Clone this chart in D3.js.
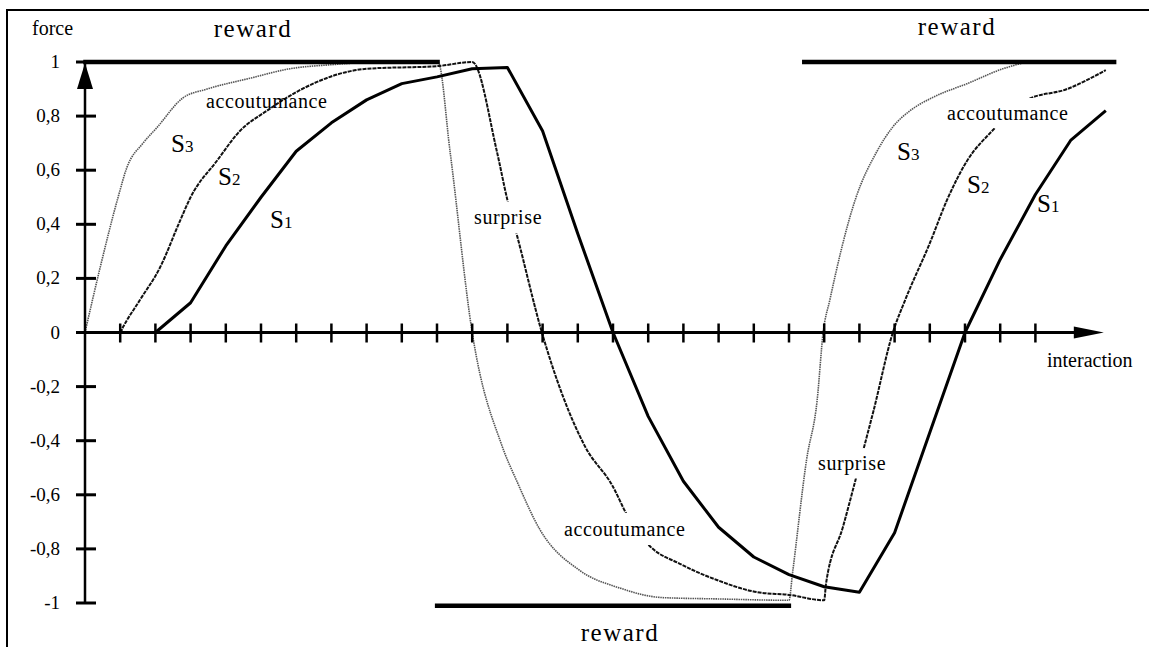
<!DOCTYPE html>
<html>
<head>
<meta charset="utf-8">
<script src="https://cdn.jsdelivr.net/npm/d3@7/dist/d3.min.js"></script>
<style>
  body { margin: 0; background: #fff; }
  text { font-family: "Liberation Serif", "Times New Roman", serif; fill: #000; }
</style>
</head>
<body>
<div id="chart"></div>
<script>
// curves: [interaction, force]
var s1 = [[0, 0], [2, 0], [3, 0.11], [4, 0.32], [5, 0.50], [6, 0.67], [7, 0.775], [8, 0.86],
          [9, 0.92], [10, 0.945], [11, 0.975], [12, 0.98], [13, 0.745], [14, 0.365], [15, 0],
          [16, -0.31], [17, -0.55], [18, -0.72], [19, -0.83], [20, -0.895], [21, -0.94],
          [22, -0.96], [23, -0.74], [24, -0.37], [25, 0], [26, 0.27], [27, 0.51], [28, 0.71],
          [29, 0.82]];
var s2 = [[0, 0], [1.0, 0], [1.08, 0.02], [1.56, 0.12], [2.13, 0.24], [2.69, 0.41], [3.0, 0.50],
          [3.75, 0.635], [4.4, 0.745], [5.17, 0.82], [6.02, 0.89], [8.01, 0.975], [10.03, 0.985],
          [11.0, 1.0], [11.7, 0.67], [12.0, 0.49], [12.27, 0.36], [12.98, 0], [14.2, -0.42],
          [15.0, -0.57], [15.4, -0.675], [16.05, -0.79], [16.9, -0.855], [17.95, -0.915],
          [19.1, -0.96], [20.0, -0.97], [21.0, -0.99], [21.05, -0.93], [21.53, -0.72],
          [21.88, -0.55], [22.1, -0.44], [22.4, -0.29], [22.95, 0], [23.3, 0.12], [24.0, 0.33],
          [24.49, 0.49], [25.06, 0.635], [25.77, 0.745], [26.76, 0.86], [27.9, 0.90], [29.0, 0.97]];
var s3 = [[0, 0], [0.43, 0.24], [0.94, 0.50], [1.19, 0.61], [1.65, 0.70], [2.04, 0.757],
          [2.78, 0.867], [3.47, 0.90], [4.69, 0.94], [5.82, 0.975], [7.0, 0.99], [8.5, 1.0],
          [10.03, 1.0], [10.37, 0.67], [11.0, 0], [11.85, -0.42], [12.27, -0.55], [12.93, -0.73],
          [14.06, -0.88], [15.2, -0.945], [16.4, -0.98], [18.0, -0.985], [20.0, -0.99],
          [20.1, -0.89], [20.5, -0.47], [20.8, -0.25], [20.97, 0], [21.16, 0.12], [21.88, 0.49],
          [22.5, 0.67], [22.95, 0.76], [23.44, 0.82], [24.1, 0.87], [25.06, 0.92], [26.2, 0.98],
          [26.9, 1.0], [29.0, 1.0]];

// reward periods
var rewardStart = [-0.05, 9.94, 20.37];
var rewardEnd = [10.08, 20.06, 29.3];
var rewardLevel = [1, -1.01, 1];

// ticks
var xTicks = [1, 2, 3, 4, 5, 6, 7, 8, 9, 10, 11, 12, 13, 14, 15, 16, 17, 18, 19, 20,
              21, 22, 23, 24, 25, 26, 27];
var yTicks = [1, 0.8, 0.6, 0.4, 0.2, 0, -0.2, -0.4, -0.6, -0.8, -1];
var yTickLabels = ["1", "0,8", "0,6", "0,4", "0,2", "0", "-0,2", "-0,4", "-0,6", "-0,8", "-1"];

var width = 1149;
var height = 647;

var svg = d3.select("#chart")
            .append("svg")
            .attr("width", width)
            .attr("height", height);

var x = d3.scaleLinear().domain([0, 29]).range([85, 1105.8]);
var y = d3.scaleLinear().domain([-1, 1]).range([603, 62]);

// frame (top and left edges only are visible)
svg.append("path")
   .attr("d", "M7,647 L7,10 L1149,10")
   .attr("fill", "none")
   .attr("stroke", "#000")
   .attr("stroke-width", 2);

// curves
var line = d3.line()
             .x(function(d) { return x(d[0]); })
             .y(function(d) { return y(d[1]); });
var smooth = d3.line()
               .x(function(d) { return x(d[0]); })
               .y(function(d) { return y(d[1]); })
               .curve(d3.curveMonotoneX);

svg.append("path")
   .datum(s3)
   .attr("d", smooth)
   .attr("fill", "none")
   .attr("stroke", "#555")
   .attr("stroke-width", 1.6)
   .attr("stroke-dasharray", "1.5,0.8");
svg.append("path")
   .datum(s2)
   .attr("d", smooth)
   .attr("fill", "none")
   .attr("stroke", "#111")
   .attr("stroke-width", 2)
   .attr("stroke-dasharray", "4,1");
svg.append("path")
   .datum(s1)
   .attr("d", line)
   .attr("fill", "none")
   .attr("stroke", "#000")
   .attr("stroke-width", 3)
   .attr("stroke-linejoin", "round");

// y axis
var axis = svg.append("g").attr("stroke", "#000");
axis.append("line")
    .attr("x1", x(0)).attr("x2", x(0))
    .attr("y1", y(1)).attr("y2", y(-1))
    .attr("stroke-width", 2.5);
axis.selectAll(".ytick")
    .data(yTicks)
    .enter().append("line")
    .attr("class", "ytick")
    .attr("x1", x(0) - 9).attr("x2", x(0) + 11)
    .attr("y1", function(d) { return y(d); })
    .attr("y2", function(d) { return y(d); })
    .attr("stroke-width", 3);
svg.append("path")
   .attr("d", "M" + x(0) + "," + (y(1) + 1) + " L" + (x(0) - 8) + "," + (y(1) + 27) +
              " L" + (x(0) + 8) + "," + (y(1) + 27) + " Z")
   .attr("fill", "#000");
svg.selectAll(".ylabel")
   .data(yTicks)
   .enter().append("text")
   .attr("class", "ylabel")
   .attr("x", 60)
   .attr("y", function(d) { return y(d) + 6; })
   .attr("text-anchor", "end")
   .attr("font-size", 19)
   .text(function(d, i) { return yTickLabels[i]; });

// x axis
axis.append("line")
    .attr("x1", x(0)).attr("x2", x(29) - 25)
    .attr("y1", y(0)).attr("y2", y(0))
    .attr("stroke-width", 3);
axis.selectAll(".xtick")
    .data(xTicks)
    .enter().append("line")
    .attr("class", "xtick")
    .attr("x1", function(d) { return x(d); })
    .attr("x2", function(d) { return x(d); })
    .attr("y1", y(0) - 9).attr("y2", y(0) + 10)
    .attr("stroke-width", 2.5);
svg.append("path")
   .attr("d", "M" + (x(29) - 2) + "," + y(0) + " L" + (x(29) - 32) + "," + (y(0) - 6) +
              " L" + (x(29) - 32) + "," + (y(0) + 6) + " Z")
   .attr("fill", "#000");

// reward bars
svg.selectAll(".reward")
   .data(rewardStart)
   .enter().append("line")
   .attr("class", "reward")
   .attr("x1", function(d) { return x(d); })
   .attr("x2", function(d, i) { return x(rewardEnd[i]); })
   .attr("y1", function(d, i) { return y(rewardLevel[i]); })
   .attr("y2", function(d, i) { return y(rewardLevel[i]); })
   .attr("stroke", "#000")
   .attr("stroke-width", 4.5);

// text
function label(tx, ty, str, size, opts) {
  opts = opts || {};
  var t = svg.append("text")
             .attr("x", tx)
             .attr("y", ty)
             .attr("font-size", size)
             .attr("text-anchor", opts.anchor || "start")
             .attr("letter-spacing", opts.spacing || 0)
             .text(str);
  if (opts.knockout) {
    var b = t.node().getBBox();
    svg.insert("rect", function() { return t.node(); })
       .attr("x", b.x - 2)
       .attr("y", b.y + b.height / 2 - opts.knockout)
       .attr("width", b.width + 4)
       .attr("height", opts.knockout * 2)
       .attr("fill", "#fff");
  }
  return t;
}
function sLabel(tx, ty, digit) {
  var t = svg.append("text").attr("x", tx).attr("y", ty);
  t.append("tspan").attr("font-size", 25).text("S");
  t.append("tspan").attr("font-size", 17).text(digit);
}

label(32, 35, "force", 20);
label(1047, 367, "interaction", 20);

label(253, 37, "reward", 25, {anchor: "middle", spacing: 1.5});
label(957, 35, "reward", 25, {anchor: "middle", spacing: 1.5});
label(620, 641, "reward", 25, {anchor: "middle", spacing: 1.5});

label(206, 108, "accoutumance", 20, {spacing: 0.6});
label(947, 120, "accoutumance", 20, {spacing: 0.6, knockout: 15});
label(564, 536, "accoutumance", 20, {spacing: 0.6, knockout: 16});
label(474, 224, "surprise", 20, {spacing: 0.6, knockout: 16});
label(818, 470, "surprise", 20, {spacing: 0.6, knockout: 15});

sLabel(171, 152, "3");
sLabel(218, 185, "2");
sLabel(270, 228, "1");
sLabel(897, 160, "3");
sLabel(967, 193, "2");
sLabel(1037, 212, "1");
</script>
</body>
</html>
